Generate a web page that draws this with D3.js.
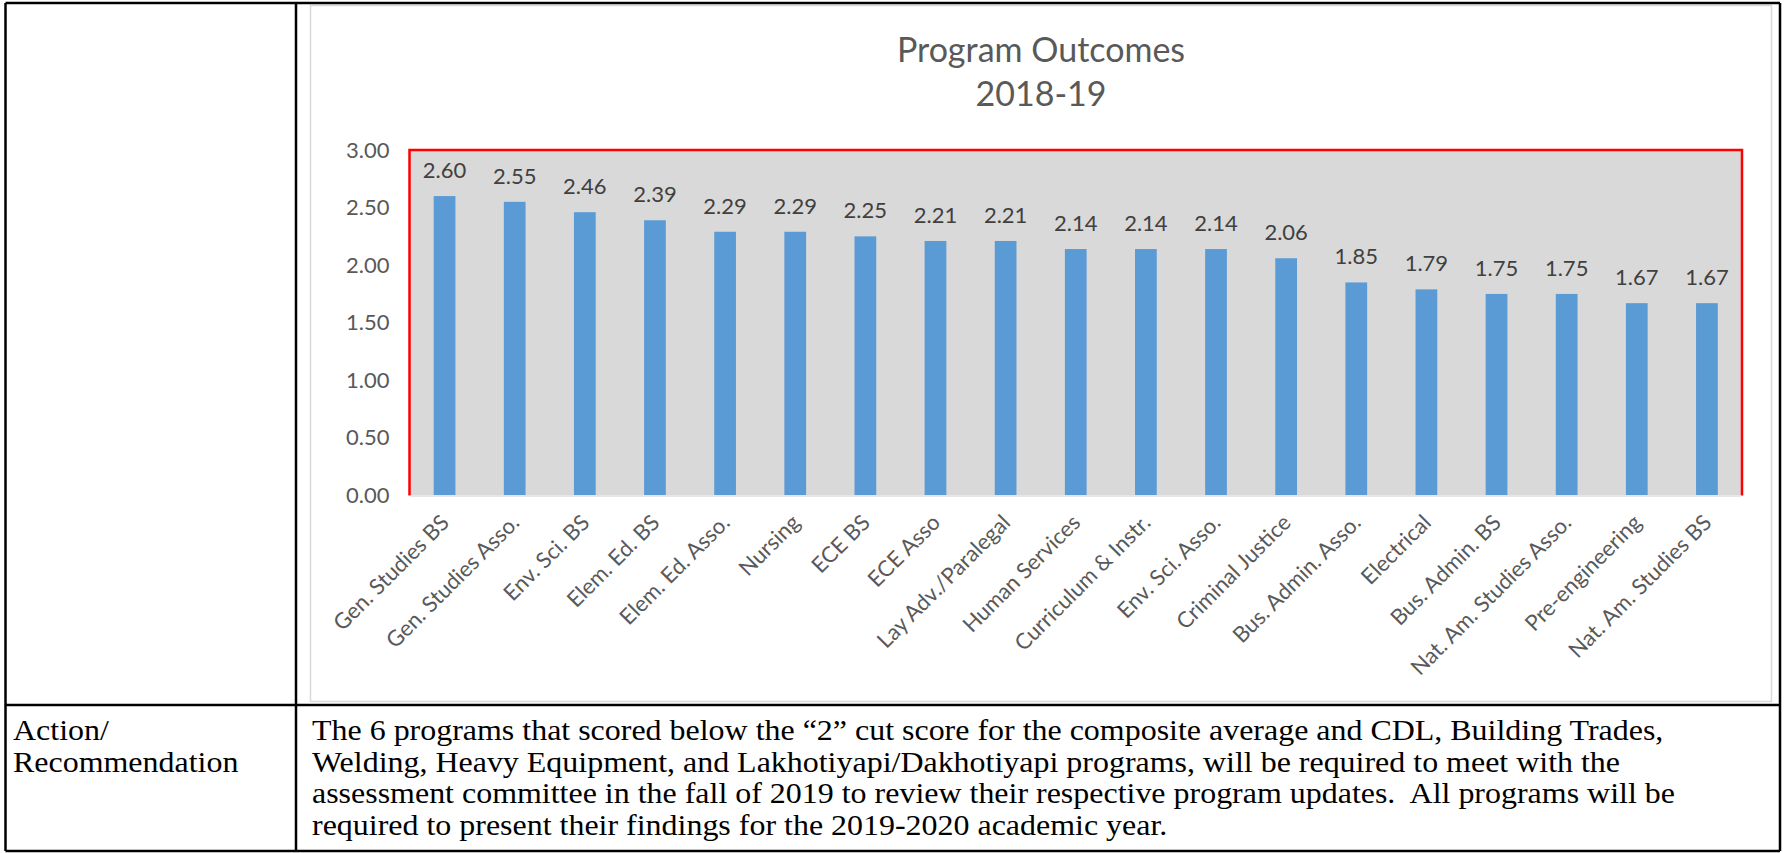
<!DOCTYPE html>
<html>
<head>
<meta charset="utf-8">
<script src="https://cdn.jsdelivr.net/npm/d3@7"></script>
<style>
  html, body { margin: 0; padding: 0; background: #fff; }
  svg { display: block; }
  .chart-text { font-family: Lato, "Open Sans", sans-serif; }
  .doc-text text { font-family: "Liberation Serif", "Times New Roman", serif; white-space: pre; }
</style>
</head>
<body>
<div id="page"></div>
<script>
// Program outcome scores, 2018-19
const programs = [
    "Gen. Studies BS", "Gen. Studies Asso.", "Env. Sci. BS", "Elem. Ed. BS",
    "Elem. Ed. Asso.", "Nursing", "ECE BS", "ECE Asso", "Lay Adv./Paralegal",
    "Human Services", "Curriculum & Instr.", "Env. Sci. Asso.", "Criminal Justice",
    "Bus. Admin. Asso.", "Electrical", "Bus. Admin. BS", "Nat. Am. Studies Asso.",
    "Pre-engineering", "Nat. Am. Studies BS"
];
const scores = [2.60, 2.55, 2.46, 2.39, 2.29, 2.29, 2.25, 2.21, 2.21, 2.14,
                2.14, 2.14, 2.06, 1.85, 1.79, 1.75, 1.75, 1.67, 1.67];
const yTicks = [0, 0.5, 1, 1.5, 2, 2.5, 3];
const titleLines = ["Program Outcomes", "2018-19"];

const rowLabel = ["Action/", "Recommendation"];
const actionText = [
    "The 6 programs that scored below the \u201c2\u201d cut score for the composite average and CDL, Building Trades,",
    "Welding, Heavy Equipment, and Lakhotiyapi/Dakhotiyapi programs, will be required to meet with the",
    "assessment committee in the fall of 2019 to review their respective program updates.  All programs will be",
    "required to present their findings for the 2019-2020 academic year."
];

const W = 1784, H = 853;
const svg = d3.select('#page').append('svg')
    .attr('width', W)
    .attr('height', H);

// Table lines
const table = { left: 5.5, right: 1780, top: 3, bottom: 851, colX: 296, rowY: 705 };
const lines = [
    [table.left, table.top, table.right, table.top],
    [table.left, table.bottom, table.right, table.bottom],
    [table.left, table.top, table.left, table.bottom],
    [table.right, table.top, table.right, table.bottom],
    [table.colX, table.top, table.colX, table.bottom],
    [table.left, table.rowY, table.right, table.rowY]
];

// Chart frame
svg.append('rect')
    .attr('x', 310.5)
    .attr('y', 5.5)
    .attr('width', 1461)
    .attr('height', 696)
    .attr('fill', '#fff')
    .attr('stroke', '#d9d9d9')
    .attr('stroke-width', 1.5);

svg.selectAll('.table-line')
    .data(lines)
    .enter()
    .append('line')
    .attr('class', 'table-line')
    .attr('x1', d => d[0]).attr('y1', d => d[1])
    .attr('x2', d => d[2]).attr('y2', d => d[3])
    .attr('stroke', '#000')
    .attr('stroke-width', 2.5);

// Title
svg.append('g')
    .attr('class', 'chart-text')
    .selectAll('text')
    .data(titleLines)
    .enter()
    .append('text')
    .attr('x', 1041)
    .attr('y', (d, i) => 62 + i * 44)
    .attr('text-anchor', 'middle')
    .attr('font-size', 34)
    .attr('fill', '#595959')
    .text(d => d);

// Plot area
const plot = { left: 409.5, right: 1742, top: 150, bottom: 495.5 };

const x = d3.scaleBand()
    .domain(programs)
    .range([plot.left, plot.right])
    .paddingInner(0.69)
    .paddingOuter(0.345);

const y = d3.scaleLinear()
    .domain([0, 3])
    .range([plot.bottom, plot.top]);

svg.append('rect')
    .attr('x', plot.left)
    .attr('y', plot.top)
    .attr('width', plot.right - plot.left)
    .attr('height', plot.bottom - plot.top)
    .attr('fill', '#d9d9d9');

// red outline on top, left and right only; the axis line sits on the bottom
svg.append('path')
    .attr('d', `M${plot.left},${plot.bottom}V${plot.top}H${plot.right}V${plot.bottom}`)
    .attr('fill', 'none')
    .attr('stroke', '#ff0000')
    .attr('stroke-width', 2.5);

// Y axis labels
const yAxis = d3.axisLeft(y)
    .tickValues(yTicks)
    .tickFormat(d3.format('.2f'))
    .tickSize(0)
    .tickPadding(20);

const yAxisG = svg.append('g')
    .attr('class', 'chart-text')
    .attr('transform', `translate(${plot.left}, 0)`)
    .call(yAxis);
yAxisG.select('.domain').remove();
yAxisG.selectAll('text')
    .attr('font-family', 'Lato, "Open Sans", sans-serif')
    .attr('font-size', 22)
    .attr('fill', '#595959');

// Bars
svg.selectAll('.bar')
    .data(programs)
    .enter()
    .append('rect')
    .attr('class', 'bar')
    .attr('x', d => x(d))
    .attr('y', (d, i) => y(scores[i]))
    .attr('width', x.bandwidth())
    .attr('height', (d, i) => y(0) - y(scores[i]))
    .attr('fill', '#5b9bd5');

// Category axis line
svg.append('line')
    .attr('x1', plot.left + 1)
    .attr('x2', plot.right - 1)
    .attr('y1', plot.bottom + 0.5)
    .attr('y2', plot.bottom + 0.5)
    .attr('stroke', '#e6e6e6')
    .attr('stroke-width', 2);

// Data labels
svg.append('g')
    .attr('class', 'chart-text')
    .selectAll('text')
    .data(programs)
    .enter()
    .append('text')
    .attr('x', d => x(d) + x.bandwidth() / 2)
    .attr('y', (d, i) => y(scores[i]) - 18)
    .attr('text-anchor', 'middle')
    .attr('font-size', 22)
    .attr('fill', '#404040')
    .text((d, i) => d3.format('.2f')(scores[i]));

// Category labels, rotated
svg.append('g')
    .attr('class', 'chart-text')
    .selectAll('text')
    .data(programs)
    .enter()
    .append('text')
    .attr('transform', d => `translate(${x(d) + x.bandwidth() / 2 + 6}, 524) rotate(-45)`)
    .attr('text-anchor', 'end')
    .attr('font-size', 22)
    .attr('fill', '#595959')
    .text(d => d);

// Bottom row text
const docG = svg.append('g').attr('class', 'doc-text');
const bodyX = 312, firstBase = 740, lineGap = 31.7, docSize = 30;

const bodyLines = docG.selectAll('.body-line')
    .data(actionText)
    .enter()
    .append('text')
    .attr('class', 'body-line')
    .attr('xml:space', 'preserve')
    .attr('font-size', docSize)
    .attr('fill', '#000')
    .text(d => d);

const labelLines = docG.selectAll('.label-line')
    .data(rowLabel)
    .enter()
    .append('text')
    .attr('class', 'label-line')
    .attr('font-size', docSize)
    .attr('fill', '#000')
    .text(d => d);

// text in the scan is a bit wider than the font; stretch to the first line's width
const sx = 1352 / bodyLines.node().getComputedTextLength();
bodyLines.attr('transform', (d, i) => `translate(${bodyX}, ${firstBase + i * lineGap}) scale(${sx}, 1)`);
labelLines.attr('transform', (d, i) => `translate(13, ${firstBase + i * lineGap}) scale(${sx}, 1)`);
</script>
</body>
</html>
